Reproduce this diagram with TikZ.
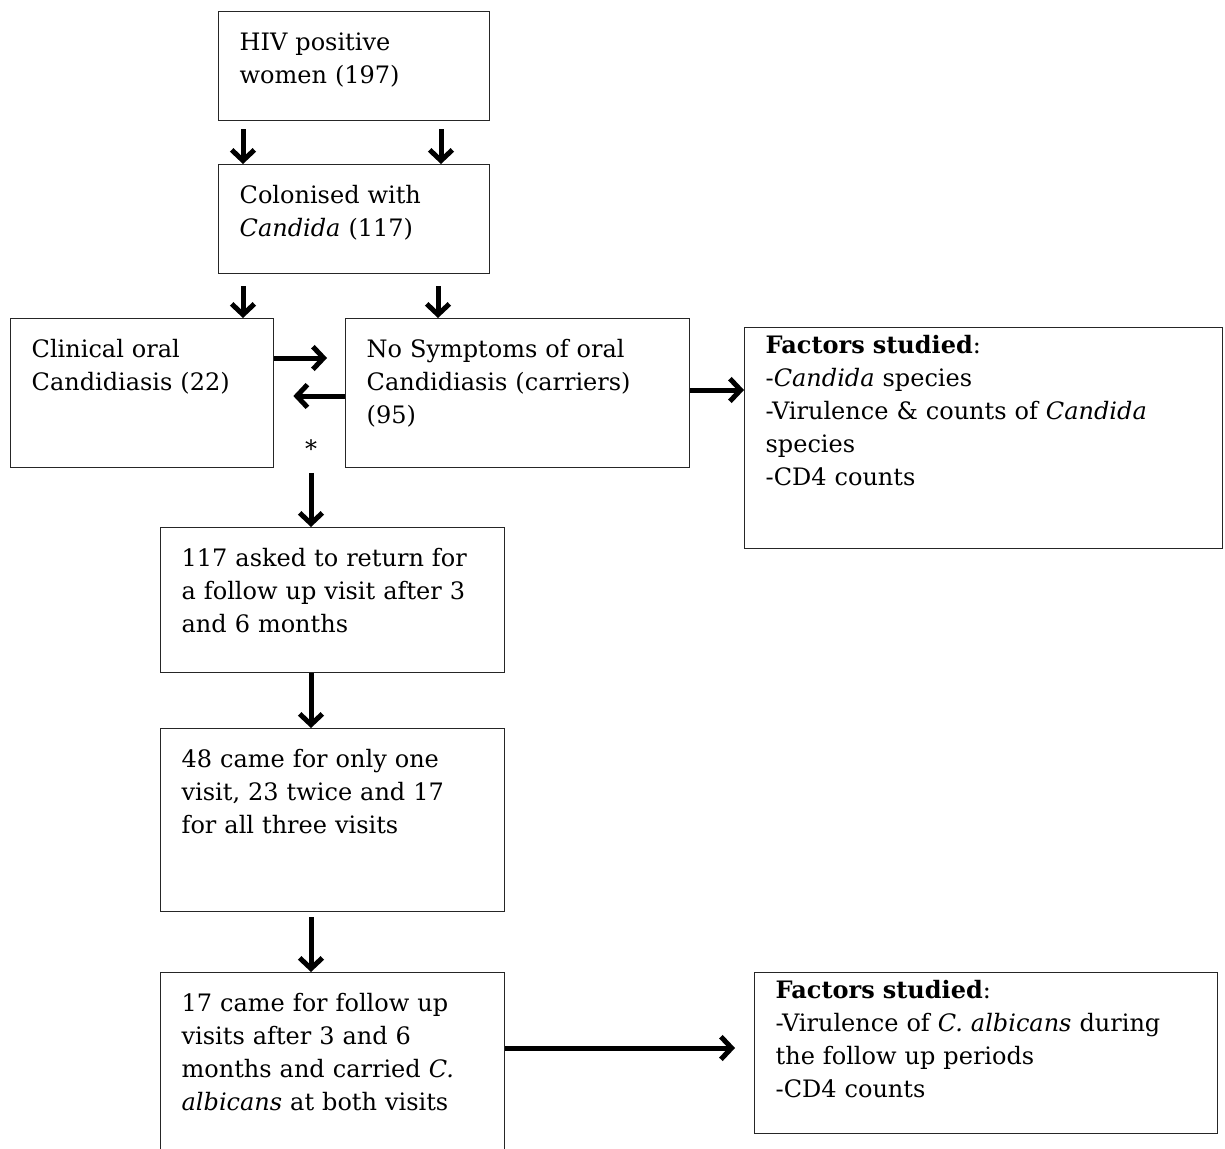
\documentclass[tikz,border=0pt]{standalone}
\usepackage{fontspec}
\setmainfont{DejaVu Serif}
\usetikzlibrary{arrows.meta}

\begin{document}
\begin{tikzpicture}[
      x=0.75pt, y=-0.75pt,
      font=\fontsize{18pt}{24.75pt}\selectfont,
      box/.style={
        draw=black!85, line width=1pt, anchor=north west, align=left,
        inner xsep=15.75pt, inner ysep=0pt, text height=29.25pt
      },
      factors/.style={box, text height=19.5pt},
      arr/.style={-{Straight Barb[length=8pt,width=17pt]}, line width=3.75pt}
    ]
      \useasboundingbox (0,0) rectangle (1225,1149);
      \clip (0,0) rectangle (1225,1149);
      \node[box, text width=171.75pt, text depth=52.5pt] (hiv) at (218,11) {HIV positive\\women (197)};
      \node[box, text width=171.75pt, text depth=52.5pt] (col) at (218,164) {Colonised with\\\textit{Candida} (117)};
      \node[box, text width=165.75pt, text depth=82.5pt] (clin) at (10,318) {Clinical oral\\Candidiasis (22)};
      \node[box, text width=226.5pt, text depth=82.5pt] (nosym) at (345,318) {No Symptoms of oral\\Candidiasis (carriers)\\(95)};
      \node[factors, text width=327pt, text depth=146.25pt] (fac1) at (744,327) {\textbf{Factors studied}:\\-\textit{Candida} species\\-Virulence \& counts of \textit{Candida}\\species\\-CD4 counts};
      \node[inner sep=0pt] (star) at (311,449) {*};
      \node[box, text width=226.5pt, text depth=79.5pt] (retn) at (160,527) {117 asked to return for\\a follow up visit after 3\\and 6 months};
      \node[box, text width=226.5pt, text depth=108pt] (visits) at (160,728) {48 came for only one\\visit, 23 twice and 17\\for all three visits};
      \node[box, text width=226.5pt, text depth=120.75pt] (carried) at (160,972) {17 came for follow up\\visits after 3 and 6\\months and carried \textit{C.}\\\textit{albicans} at both visits};
      \node[factors, text width=315.75pt, text depth=101.25pt] (fac2) at (754,972) {\textbf{Factors studied}:\\-Virulence of \textit{C. albicans} during\\the follow up periods\\-CD4 counts};
      \draw[arr, shorten <=6pt] ([xshift=18.75pt]hiv.south west) -- ([xshift=18.75pt]col.north west);
      \draw[arr, shorten <=6pt] ([xshift=167.25pt]hiv.south west) -- ([xshift=167.25pt]col.north west);
      \draw[arr, shorten <=9pt] ([xshift=18.75pt]col.south west) -- ([xshift=174.75pt]clin.north west);
      \draw[arr, shorten <=9pt] ([xshift=165pt]col.south west) -- ([xshift=69.75pt]nosym.north west);
      \draw[arr, shorten >=13.5pt] ([yshift=-30pt]clin.north east) -- ([yshift=-30pt]nosym.north west);
      \draw[arr, shorten >=14.25pt] ([yshift=-58.5pt]nosym.north west) -- ([yshift=-58.5pt]clin.north east);
      \draw[arr] ([yshift=-54pt]nosym.north east) -- ([yshift=-47.25pt]fac1.north west);
      \draw[arr, shorten <=11pt] (star) -- ([xshift=113.25pt]retn.north west);
      \draw[arr] ([xshift=113.25pt]retn.south west) -- ([xshift=113.25pt]visits.north west);
      \draw[arr, shorten <=3.75pt] ([xshift=113.25pt]visits.south west) -- ([xshift=113.25pt]carried.north west);
      \draw[arr, shorten >=14.25pt] ([yshift=-57pt]carried.north east) -- ([yshift=-57pt]fac2.north west);
    \end{tikzpicture}
\end{document}
